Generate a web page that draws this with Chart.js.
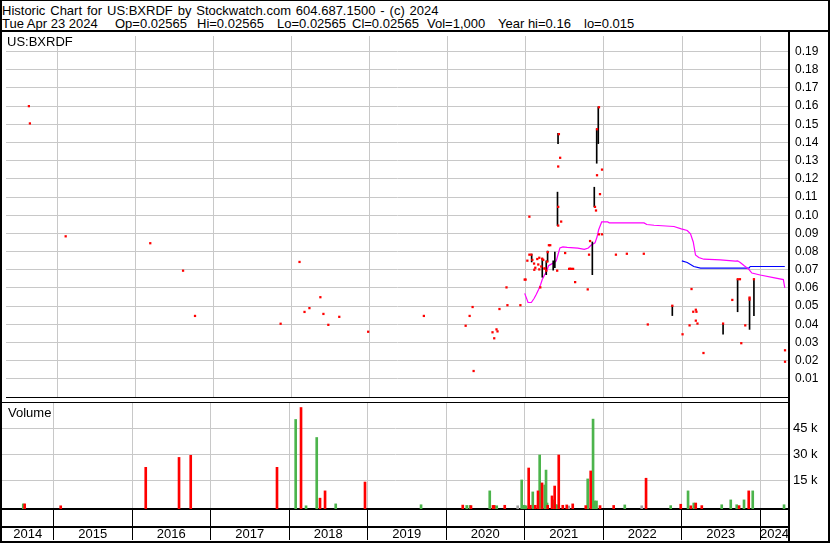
<!DOCTYPE html>
<html>
<head>
<meta charset="utf-8">
<title>US:BXRDF historic chart</title>
<script src="https://cdn.jsdelivr.net/npm/chart.js@4.4.1/dist/chart.umd.min.js"></script>
<style>
  html, body { margin: 0; padding: 0; background: #fff; }
  #page { position: relative; width: 830px; height: 543px; overflow: hidden;
          font-family: "Liberation Sans", Arial, sans-serif; color: #000; }
  .abs { position: absolute; }
  .txt { font-size: 13px; line-height: 13px; white-space: pre; }
  .head { font-size: 13px; line-height: 13px; white-space: pre; position: absolute; }
  .rule { position: absolute; background: #000; }
  #frame { left: 0; top: 0; width: 830px; height: 543px; box-sizing: border-box;
           border-style: solid; border-color: #000; border-width: 1px 2px 2px 2px; }
  #priceCanvas { left: 2px; top: 32px; }
  #volumeCanvas { left: 2px; top: 403px; }
</style>
</head>
<body>
<div id="page">
  <div class="head" style="left:2px;top:4px;word-spacing:1.3px">Historic Chart for US:BXRDF by Stockwatch.com 604.687.1500 - (c) 2024</div>
  <div class="head" style="left:2px;top:17px">Tue Apr 23 2024</div>
  <div class="head" style="left:115px;top:17px">Op=0.02565</div>
  <div class="head" style="left:197px;top:17px">Hi=0.02565</div>
  <div class="head" style="left:277px;top:17px">Lo=0.02565</div>
  <div class="head" style="left:352px;top:17px">Cl=0.02565</div>
  <div class="head" style="left:427px;top:17px">Vol=1,000</div>
  <div class="head" style="left:498px;top:17px">Year hi=0.16</div>
  <div class="head" style="left:584px;top:17px">lo=0.015</div>
  <div class="rule" style="left:0;top:30px;width:830px;height:2px"></div>
  <canvas id="priceCanvas" class="abs" width="826" height="369"></canvas>
  <div class="rule" style="left:2px;top:402px;width:787px;height:1px"></div>
  <canvas id="volumeCanvas" class="abs" width="826" height="138"></canvas>
  <div class="rule" style="left:788px;top:31px;width:2px;height:511px"></div>
  <div class="txt abs" style="left:7px;top:35px">US:BXRDF</div>
  <div class="txt abs" style="left:8px;top:406px">Volume</div>
  <div id="frame" class="abs"></div>
</div>

<script>
// time axis in fractional years
const xStart = 2014.344;
const xEnd = 2024.369;
const yearTicks = [2015, 2016, 2017, 2018, 2019, 2020, 2021, 2022, 2023, 2024];
const yearLabels = ['2014', '2015', '2016', '2017', '2018', '2019', '2020', '2021', '2022', '2023', '2024'];

const priceTicks = [0.01, 0.02, 0.03, 0.04, 0.05, 0.06, 0.07, 0.08, 0.09, 0.10,
                    0.11, 0.12, 0.13, 0.14, 0.15, 0.16, 0.17, 0.18, 0.19];
const priceMax = 0.1986;
const volumeTicks = [15000, 30000, 45000];
const volumeMin = -1450;
const volumeMax = 59700;

// daily closes [year, price]
const priceCloses = [
  [2014.637, 0.160], [2014.650, 0.1505], [2015.108, 0.0884], [2016.191, 0.0846], [2016.611, 0.0695], [2016.764, 0.0446],
  [2017.860, 0.0403], [2018.102, 0.0743], [2018.166, 0.0468], [2018.229, 0.0489], [2018.369, 0.0549], [2018.408, 0.0457],
  [2018.471, 0.0397], [2018.611, 0.0441], [2018.981, 0.0359], [2019.694, 0.0446],
  [2020.229, 0.0392], [2020.280, 0.0446], [2020.318, 0.0495], [2020.331, 0.0143],
  [2020.573, 0.0356], [2020.595, 0.0323], [2020.624, 0.0372], [2020.637, 0.0361], [2020.662, 0.0484],
  [2020.752, 0.0603], [2020.764, 0.0505], [2020.930, 0.0505], [2020.985, 0.0646], [2020.997, 0.0646],
  [2021.019, 0.0750], [2021.045, 0.0992], [2021.045, 0.0783], [2021.070, 0.0783], [2021.083, 0.0754],
  [2021.105, 0.0734], [2021.108, 0.0700], [2021.121, 0.0711], [2021.146, 0.0759], [2021.159, 0.0729],
  [2021.172, 0.0766], [2021.172, 0.0702], [2021.185, 0.0603], [2021.197, 0.0718], [2021.210, 0.0760],
  [2021.223, 0.0754], [2021.236, 0.0707], [2021.248, 0.0707], [2021.261, 0.0695], [2021.274, 0.0745],
  [2021.280, 0.0797], [2021.295, 0.0835], [2021.312, 0.0835], [2021.401, 0.0695], [2021.414, 0.0943],
  [2021.414, 0.1046], [2021.414, 0.1268], [2021.423, 0.1446], [2021.439, 0.1316], [2021.452, 0.0965],
  [2021.503, 0.0792], [2021.554, 0.0705], [2021.567, 0.0705], [2021.580, 0.0705], [2021.605, 0.0705],
  [2021.631, 0.0632], [2021.792, 0.0592], [2021.809, 0.0783], [2021.822, 0.0858], [2021.885, 0.1046],
  [2021.898, 0.1026], [2021.911, 0.1220], [2021.911, 0.1473], [2021.936, 0.1594], [2021.949, 0.1116],
  [2021.975, 0.1251], [2021.936, 0.0895], [2021.975, 0.0895], [2022.153, 0.0783], [2022.293, 0.0788],
  [2022.510, 0.0788], [2022.561, 0.0399], [2022.875, 0.0502], [2023.006, 0.0345], [2023.096, 0.0394],
  [2023.121, 0.0594], [2023.143, 0.0469], [2023.176, 0.0480], [2023.184, 0.0469], [2023.176, 0.0420],
  [2023.197, 0.0404], [2023.274, 0.0242], [2023.525, 0.0404], [2023.643, 0.0534], [2023.713, 0.0648],
  [2023.741, 0.0648], [2023.758, 0.0296], [2023.809, 0.0394], [2023.864, 0.0547], [2023.864, 0.0536],
  [2023.920, 0.0648], [2024.318, 0.0257], [2024.318, 0.0194]
];

// daily high-low ranges [year, low, high]
const priceRanges = [
  [2021.074, 0.0743, 0.0786], [2021.210, 0.0659, 0.0764], [2021.261, 0.0673, 0.0749], [2021.278, 0.0745, 0.0803],
  [2021.350, 0.0698, 0.0749], [2021.371, 0.0712, 0.0797], [2021.405, 0.0943, 0.1127], [2021.412, 0.1394, 0.1451],
  [2021.851, 0.0673, 0.0853], [2021.876, 0.1046, 0.1154], [2021.907, 0.1286, 0.1475], [2021.927, 0.1394, 0.1596],
  [2022.875, 0.0448, 0.0502], [2023.525, 0.0345, 0.0404], [2023.711, 0.0469, 0.0648], [2023.864, 0.0372, 0.0547],
  [2023.920, 0.0448, 0.0648]
];

// moving averages [year, price]
const maLong = [
  [2020.985, 0.0570], [2021.028, 0.0520], [2021.070, 0.0520], [2021.105, 0.0542], [2021.134, 0.0565],
  [2021.163, 0.0592], [2021.189, 0.0619], [2021.210, 0.0646], [2021.239, 0.0671], [2021.265, 0.0691],
  [2021.290, 0.0722], [2021.325, 0.0731], [2021.367, 0.0740], [2021.389, 0.0749], [2021.410, 0.0781],
  [2021.436, 0.0820], [2021.474, 0.0826], [2021.529, 0.0823], [2021.665, 0.0819], [2021.749, 0.0812],
  [2021.800, 0.0820], [2021.834, 0.0835], [2021.885, 0.0848], [2021.911, 0.0880], [2021.932, 0.0920],
  [2021.953, 0.0943], [2021.971, 0.0963], [2022.047, 0.0963], [2022.068, 0.0958], [2022.513, 0.0958],
  [2022.548, 0.0949], [2022.641, 0.0945], [2022.896, 0.0938], [2022.990, 0.0925], [2023.066, 0.0916],
  [2023.108, 0.0898], [2023.143, 0.0853], [2023.172, 0.0781], [2023.214, 0.0767], [2023.278, 0.0758],
  [2023.490, 0.0754], [2023.682, 0.0747], [2023.711, 0.0749], [2023.745, 0.0740], [2023.796, 0.0722],
  [2023.851, 0.0704], [2023.894, 0.0682], [2024.000, 0.0671], [2024.169, 0.0657], [2024.297, 0.0646],
  [2024.315, 0.0600]
];
const maShort = [
  [2022.997, 0.0749], [2023.066, 0.0740], [2023.150, 0.0718], [2023.236, 0.0709], [2023.856, 0.0709],
  [2023.873, 0.0718], [2024.315, 0.0718]
];

// volume [year, shares]
const volumeUp = [
  [2014.615, 1500], [2018.085, 50200], [2018.217, 400], [2018.353, 39800], [2018.595, 1500], [2019.682, 1000],
  [2020.264, 600], [2020.306, 600], [2020.557, 9000], [2020.618, 400], [2020.646, 400], [2020.964, 15300],
  [2020.997, 700], [2021.019, 400], [2021.105, 8400], [2021.193, 29700], [2021.257, 12400], [2021.274, 21000],
  [2021.287, 2000], [2021.363, 3800], [2021.401, 1000], [2021.418, 900], [2021.805, 15900], [2021.873, 50400],
  [2021.892, 3200], [2021.917, 3200], [2022.277, 900], [2022.862, 500], [2023.083, 9000], [2023.156, 2000],
  [2023.512, 1000], [2023.627, 3800], [2023.703, 1000], [2023.796, 3800], [2023.907, 9000], [2024.306, 1000]
];
const volumeDown = [
  [2014.633, 1500], [2015.092, 400], [2016.175, 22600], [2016.599, 28300], [2016.748, 29500], [2017.847, 22600],
  [2018.153, 57100], [2018.395, 4800], [2018.459, 9000], [2018.968, 14100], [2020.213, 800], [2020.318, 500],
  [2020.599, 600], [2020.611, 600], [2020.748, 700], [2021.053, 22200], [2021.074, 700], [2021.138, 700],
  [2021.172, 9000], [2021.223, 13600], [2021.295, 700], [2021.350, 6100], [2021.384, 11800], [2021.436, 29700],
  [2021.487, 700], [2021.538, 900], [2021.614, 1500], [2021.780, 500], [2021.843, 20500], [2021.962, 500],
  [2022.136, 600], [2022.548, 16300], [2022.990, 1300], [2023.118, 400], [2023.181, 2000], [2023.258, 500],
  [2023.733, 500], [2023.856, 9000]
];
const volumeFlat = [
  [2020.913, 400], [2021.563, 300], [2022.493, 400]
];

const gridGrey = '#c8c8c8';
const volGreen = 'rgb(76,180,76)';

Chart.defaults.font.family = '"Liberation Sans", Arial, sans-serif';
Chart.defaults.font.size = 12;
Chart.defaults.color = '#000';

function toPoints(list) {
  return list.map(([x, y]) => ({ x, y }));
}

function setTicks(values) {
  return axis => { axis.ticks = values.map(v => ({ value: v })); };
}

function fixedWidth(w) {
  return axis => { axis.width = w; axis.paddingTop = 0; axis.paddingBottom = 0; };
}

const commonOptions = {
  responsive: false,
  animation: false,
  events: [],
  devicePixelRatio: 1,
  plugins: { legend: { display: false }, tooltip: { enabled: false } }
};

function initPriceChart() {
  new Chart(document.getElementById('priceCanvas'), {
    type: 'scatter',
    data: {
      datasets: [
        { type: 'scatter', data: toPoints(priceCloses), pointStyle: 'rect', pointRadius: 1.6,
          pointBackgroundColor: '#ff0000', pointBorderWidth: 0, order: 0 },
        { type: 'bar', data: priceRanges.map(([x, lo, hi]) => ({ x, y: [lo, hi] })),
          backgroundColor: '#000', barThickness: 1, grouped: false, order: 1 },
        { type: 'line', data: toPoints(maLong), borderColor: '#ff00ff', borderWidth: 1.2,
          pointRadius: 0, fill: false, order: 2 },
        { type: 'line', data: toPoints(maShort), borderColor: '#0000ff', borderWidth: 1.2,
          pointRadius: 0, fill: false, order: 3 }
      ]
    },
    options: {
      ...commonOptions,
      layout: { padding: { top: 0, left: 0, right: 0, bottom: 1 } },
      scales: {
        x: {
          type: 'linear', min: xStart, max: xEnd, offset: false,
          afterBuildTicks: setTicks(yearTicks),
          ticks: { display: false },
          grid: { color: gridGrey, drawTicks: false, offset: false },
          border: { display: true, color: '#000', width: 1 }
        },
        y: {
          type: 'linear', position: 'right', min: 0, max: priceMax,
          afterBuildTicks: setTicks(priceTicks),
          afterFit: fixedWidth(39),
          ticks: { callback: v => v.toFixed(2), padding: 6, font: { size: 12 } },
          grid: { color: gridGrey, drawTicks: false },
          border: { display: false }
        }
      }
    }
  });
}

function initVolumeChart() {
  // year labels sit in the middle of each (visible part of a) year
  const labelTicks = yearLabels.map(label => {
    const y = Number(label);
    const a = Math.max(y, xStart);
    const b = Math.min(y + 1, xEnd);
    return { value: (a + b) / 2, yearLabel: label };
  });
  const bottomTicks = yearTicks.map(v => ({ value: v, yearLabel: '' }))
    .concat(labelTicks)
    .sort((p, q) => p.value - q.value);

  const barSet = (list, color) => ({
    data: toPoints(list), backgroundColor: color, barThickness: 2, grouped: false, base: volumeMin
  });

  new Chart(document.getElementById('volumeCanvas'), {
    type: 'bar',
    data: {
      datasets: [
        barSet(volumeDown, '#ff0000'),
        barSet(volumeUp, volGreen),
        barSet(volumeFlat, '#a0a0a0')
      ]
    },
    options: {
      ...commonOptions,
      layout: { padding: 0 },
      scales: {
        x: {
          type: 'linear', position: 'bottom', min: xStart, max: xEnd, offset: false,
          afterBuildTicks: setTicks(yearTicks),
          afterFit: axis => { axis.height = 18; axis.paddingLeft = 0; axis.paddingRight = 0; },
          ticks: { display: false },
          grid: { color: gridGrey, tickColor: '#000', tickLength: 18, tickWidth: 1, offset: false },
          border: { display: true, color: '#000', width: 2 }
        },
        xYears: {
          type: 'linear', position: 'bottom', min: xStart, max: xEnd, offset: false,
          afterBuildTicks: axis => { axis.ticks = bottomTicks.map(t => ({ ...t })); },
          afterFit: axis => { axis.height = 14; axis.paddingLeft = 0; axis.paddingRight = 0; },
          ticks: {
            autoSkip: false, maxRotation: 0, minRotation: 0, padding: -13,
            font: { size: 13 },
            callback: (value, index, ticks) => ticks[index].yearLabel
          },
          grid: {
            drawOnChartArea: false, tickLength: 13, tickWidth: 1, offset: false,
            tickColor: ctx => (ctx.tick && ctx.tick.yearLabel) ? 'rgba(0,0,0,0)' : '#000'
          },
          border: { display: true, color: '#000', width: 2 }
        },
        y: {
          type: 'linear', position: 'right', min: volumeMin, max: volumeMax,
          afterBuildTicks: setTicks(volumeTicks),
          afterFit: fixedWidth(39),
          ticks: { callback: v => (v / 1000) + ' k', padding: 4, font: { size: 13 } },
          grid: { color: gridGrey, drawTicks: false },
          border: { display: false }
        }
      }
    }
  });
}

initPriceChart();
initVolumeChart();
</script>
</body>
</html>
